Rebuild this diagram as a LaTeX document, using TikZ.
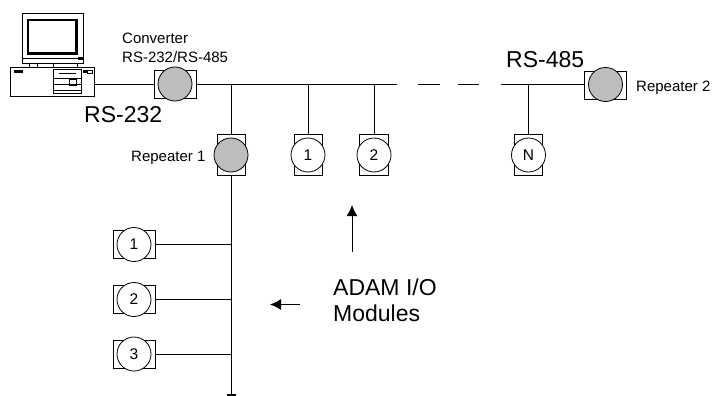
\documentclass[tikz,border=0pt]{standalone}
\usepackage{fontspec}
\setmainfont{Liberation Sans}
\usetikzlibrary{arrows.meta}
\tikzset{
  ln/.style={draw=black,line width=1pt},
  boxw/.style={draw=black,line width=0.8pt,fill=white,inner sep=0pt,minimum width=42pt,minimum height=28pt},
  boxt/.style={draw=black,line width=0.8pt,fill=white,inner sep=0pt,minimum width=28.5pt,minimum height=41pt},
  disc/.style={circle,draw=black,line width=0.8pt,fill=white,inner sep=0pt,minimum size=34pt,font=\fontsize{15.5}{15.5}\selectfont},
  gdisc/.style={disc,fill=black!26},
  small/.style={inner sep=0pt,font=\fontsize{15}{17}\selectfont,align=left},
  big/.style={inner sep=0pt,font=\fontsize{23}{26}\selectfont,align=left},
  arr/.style={ln,-{Latex[length=11pt,width=11pt]}},
}
\begin{document}
\begin{tikzpicture}[x=1pt,y=-1pt]
\useasboundingbox (0,0) rectangle (712,396);
% computer
\draw[line width=0.7pt] (22,13) rectangle (83,63);
\draw[line width=2.6pt] (28,20) rectangle (76.5,53.5);
\draw[line width=0.7pt] (22,58) -- (83,58);
\draw[line width=0.7pt,fill=black] (78,57) rectangle (82,59);
\draw[line width=0.7pt] (29,63) rectangle (77,67);
\draw[line width=0.7pt] (37,63) -- (37,67) (53,63) -- (53,67);
\node[draw=black,line width=0.7pt,fill=white,inner sep=0pt,minimum width=83.5pt,minimum height=29pt] (pc) at (52.5,82) {};
\draw[line width=0.7pt] (53.5,69) rectangle (81,93.5);
\draw[line width=1.6pt] (59,73.5) -- (76,73.5);
\draw[line width=0.7pt] (54,78.5) -- (80.5,78.5) (54,84.5) -- (80.5,84.5) (54,90) -- (80.5,90);
\draw[line width=0.7pt] (69,79) rectangle (76,85);
\fill (14,70) rectangle (23,73);
\fill (83,70) rectangle (87,73);
\draw[line width=0.6pt] (87,70) rectangle (92,73);
% devices
\node[boxw] (convb) at (175,84.5) {};
\node[gdisc] (conv) at (175,84) {};
\node[boxt] (rep1b) at (231.5,155) {};
\node[gdisc] (rep1) at (231,155) {};
\node[boxt] (m1b) at (308.5,155) {};
\node[disc] (m1) at (308,155) {1};
\node[boxt] (m2b) at (374,155) {};
\node[disc] (m2) at (374,155) {2};
\node[boxt] (mnb) at (528.5,155) {};
\node[disc] (mn) at (528.5,155) {N};
\node[boxw] (rep2b) at (605.5,85) {};
\node[gdisc] (rep2) at (605.5,84.5) {};
\node[boxw] (a1b) at (134,244.5) {};
\node[disc] (a1) at (134,244.5) {1};
\node[boxw] (a2b) at (134,299.5) {};
\node[disc] (a2) at (134,299.5) {2};
\node[boxw] (a3b) at (134,354) {};
\node[disc] (a3) at (134,354) {3};
% bus
\coordinate (busl) at (convb.east);
\coordinate (e1) at (397,84.5);
\coordinate (d1a) at (418,84.5); \coordinate (d1b) at (440,84.5);
\coordinate (d2a) at (458,84.5); \coordinate (d2b) at (479,84.5);
\coordinate (e2) at (501,84.5);
\coordinate (j1) at (231.5,84.5); \coordinate (j2) at (308.5,84.5); \coordinate (j3) at (374,84.5); \coordinate (j4) at (528.5,84.5);
\coordinate (v1) at (231.5,244.5); \coordinate (v2) at (231.5,299.5); \coordinate (v3) at (231.5,354);
\coordinate (vend) at (231.5,395);
\coordinate (tl) at (227,395); \coordinate (tr) at (236,395);
\draw[ln] (pc.east |- convb.west) -- (convb.west);
\draw[ln] (busl) -- (e1);
\draw[ln] (d1a) -- (d1b);
\draw[ln] (d2a) -- (d2b);
\draw[ln] (e2) -- (e2 -| rep2b.west);
\draw[ln] (j1) -- (rep1b.north);
\draw[ln] (j2) -- (m1b.north);
\draw[ln] (j3) -- (m2b.north);
\draw[ln] (j4) -- (mnb.north);
\draw[ln] (rep1b.south) -- (vend);
\draw[ln,line width=1.2pt] (tl) -- (tr);
\draw[ln] (a1b.east) -- (v1);
\draw[ln] (a2b.east) -- (v2);
\draw[ln] (a3b.east) -- (v3);
% arrows
\coordinate (al) at (300,304.5); \coordinate (alt) at (270,304.5);
\coordinate (au) at (352,252); \coordinate (aut) at (352,205);
\draw[arr] (al) -- (alt);
\draw[arr] (au) -- (aut);
% labels
\node[small,anchor=west] (t1) at (122,38) {Converter};
\node[small,anchor=west] (t2) at (122,57) {RS-232/RS-485};
\node[small,anchor=west] (t3) at (131,158) {Repeater 1};
\node[small,anchor=west] (t4) at (636,88) {Repeater 2};
\node[big,anchor=west] (t5) at (84,115) {RS-232};
\node[big,anchor=west] (t6) at (506,60) {RS-485};
\node[big,anchor=west] (t7) at (333,287) {ADAM I/O};
\node[big,anchor=west] (t8) at (333,313) {Modules};
\end{tikzpicture}
\end{document}
